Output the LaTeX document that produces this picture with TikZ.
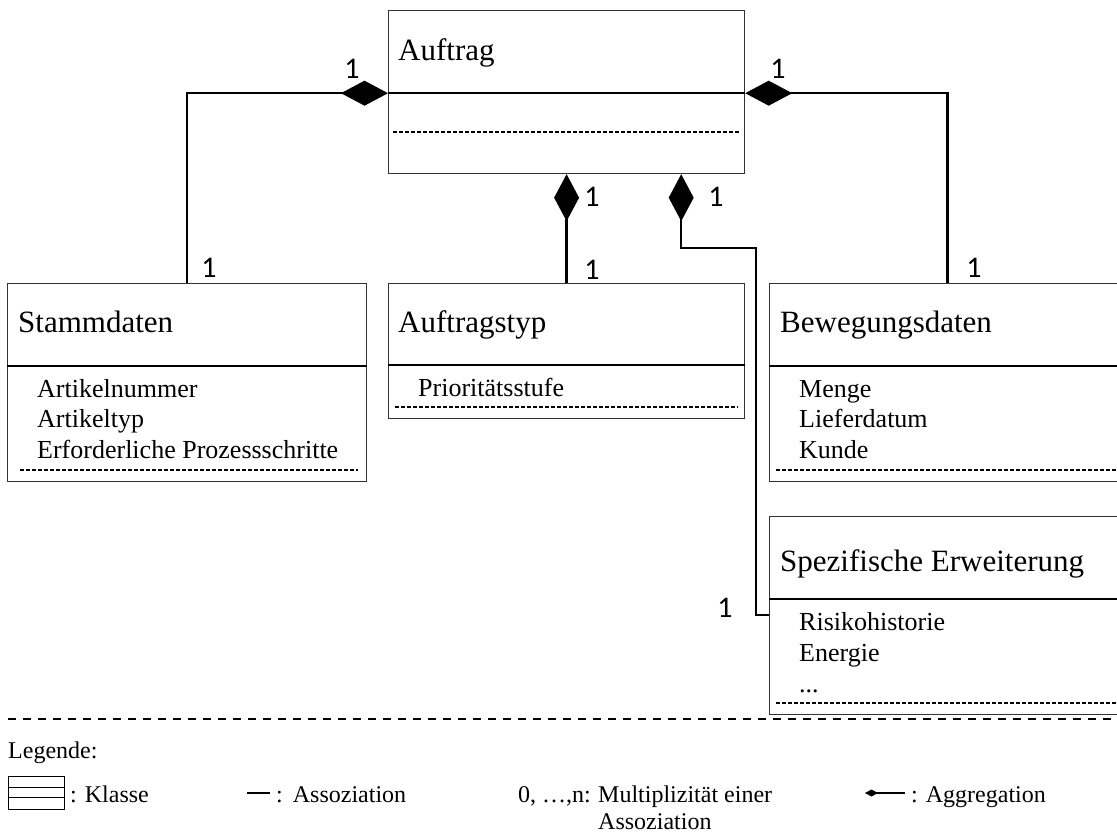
\documentclass[tikz,border=0pt]{standalone}
\usepackage{fontspec}
\setmainfont{Liberation Serif}
\newfontfamily\lblfont{Carlito}
\usetikzlibrary{arrows.meta}
\frenchspacing

\begin{document}
\begin{tikzpicture}[x=1pt,y=-1pt,
  box/.style={draw=black!80, line width=1.2pt, inner sep=0pt, anchor=north west},
  divider/.style={line width=1.8pt},
  dotrule/.style={line width=2.2pt, dash pattern=on 4pt off 2pt},
  title/.style={font=\fontsize{31}{36}\selectfont, anchor=base west, inner sep=0pt},
  attr/.style={font=\fontsize{26}{30}\selectfont, anchor=base west, inner sep=0pt},
  mult/.style={font=\lblfont\fontsize{30}{34}\selectfont, inner sep=0pt},
  assoc/.style={line width=2.5pt},
  agg/.style={assoc, {Diamond[length=47pt,width=25pt]}-},
  legend/.style={font=\fontsize{24}{28}\selectfont, anchor=base west, inner sep=0pt},
]
\useasboundingbox (0,0) rectangle (1117,834);
\clip (0,0) rectangle (1117,834);

% ---- class Auftrag ----
\node[box, minimum width=356pt, minimum height=82pt] (aufHead) at (388,10) {};
\node[box, minimum width=356pt, minimum height=81pt] (aufBody) at (388,92) {};
\node[title] (aufTitle) at (398,61) {Auftrag};
\draw[divider] (aufHead.south west) -- (aufHead.south east);
\draw[dotrule] (393,132) -- (739,132);

% ---- class Stammdaten ----
\node[box, minimum width=359pt, minimum height=82pt] (stammHead) at (7,283) {};
\node[box, minimum width=359pt, minimum height=116pt] (stammBody) at (7,365) {};
\node[title] (stammTitle) at (18,333) {Stammdaten};
\draw[divider] (stammHead.south west) -- (stammHead.south east);
\node[attr] (stammA1) at (37,397) {Artikelnummer};
\node[attr] (stammA2) at (37,428) {Artikeltyp};
\node[attr] (stammA3) at (37,458) {Erforderliche Prozessschritte};
\draw[dotrule] (20,470) -- (358,470);

% ---- class Auftragstyp ----
\node[box, minimum width=356pt, minimum height=81pt] (typHead) at (388,283) {};
\node[box, minimum width=356pt, minimum height=54pt] (typBody) at (388,364) {};
\node[title] (typTitle) at (398,333) {Auftragstyp};
\draw[divider] (typHead.south west) -- (typHead.south east);
\node[attr] (typA1) at (418,396) {Prioritätsstufe};
\draw[dotrule] (395,407) -- (738,407);

% ---- class Bewegungsdaten ----
\node[box, minimum width=356pt, minimum height=82pt] (bewHead) at (769,283) {};
\node[box, minimum width=356pt, minimum height=116pt] (bewBody) at (769,365) {};
\node[title] (bewTitle) at (780,333) {Bewegungsdaten};
\draw[divider] (bewHead.south west) -- (bewHead.south east);
\node[attr] (bewA1) at (799,397) {Menge};
\node[attr] (bewA2) at (799,427) {Lieferdatum};
\node[attr] (bewA3) at (799,458) {Kunde};
\draw[dotrule] (776,470) -- (1117,470);

% ---- class Spezifische Erweiterung ----
\node[box, minimum width=356pt, minimum height=82pt] (spezHead) at (769,516) {};
\node[box, minimum width=356pt, minimum height=116pt] (spezBody) at (769,598) {};
\node[title] (spezTitle) at (780,571) {Spezifische Erweiterung};
\draw[divider] (spezHead.south west) -- (spezHead.south east);
\node[attr] (spezA1) at (799,630) {Risikohistorie};
\node[attr] (spezA2) at (799,661) {Energie};
\node[attr] (spezA3) at (799,692) {...};
\draw[dotrule] (776,703) -- (1117,703);

% ---- aggregations ----
\draw[agg] (aufHead.south west) -| (stammHead.north);
\draw[agg] (aufHead.south east) -| (bewHead.north);
\draw[agg] (aufBody.south) -- (typHead.north);
\coordinate (spezAggStart) at ([xshift=-64pt]aufBody.south east);
\coordinate (spezKink) at (756,248);
\coordinate (spezIn) at ([yshift=-17pt]spezBody.north west);
\draw[agg] (spezAggStart) |- (spezKink) |- (spezIn);

% ---- multiplicities ----
\node[mult] (mStammA) at (352,69) {1};
\node[mult] (mStammB) at (209,268) {1};
\node[mult] (mBewA) at (778,69) {1};
\node[mult] (mBewB) at (974,268) {1};
\node[mult] (mTypA) at (592,197) {1};
\node[mult] (mTypB) at (592,270) {1};
\node[mult] (mSpezA) at (716,197) {1};
\node[mult] (mSpezB) at (725,608) {1};

% ---- legend ----
\draw[line width=1.5pt, dash pattern=on 8pt off 7pt] (8,719) -- (1117,719);
\node[legend] (legTitle) at (8,758) {Legende:};
\node[box, draw=black, line width=1pt, minimum width=56pt, minimum height=33pt] (legClass) at (8,776) {};
\draw[line width=1pt] (8,787) -- (64,787) (8,797) -- (64,797);
\node[legend] (legK) at (70,802) {:\hspace{8pt}Klasse};
\draw[line width=1.5pt] (247,793) -- (270,793);
\node[legend] (legA) at (276,802) {:\hspace{10pt}Assoziation};
\node[legend] (legM0) at (518,802) {0, …,n:};
\node[legend] (legM) at (598,802) {Multiplizität einer};
\node[legend] (legM2) at (598,829) {Assoziation};
\draw[line width=1.5pt, {Diamond[length=13pt,width=7pt]}-] (865,793) -- (905,793);
\node[legend] (legG) at (911,802) {:\hspace{8pt}Aggregation};
\end{tikzpicture}
\end{document}
